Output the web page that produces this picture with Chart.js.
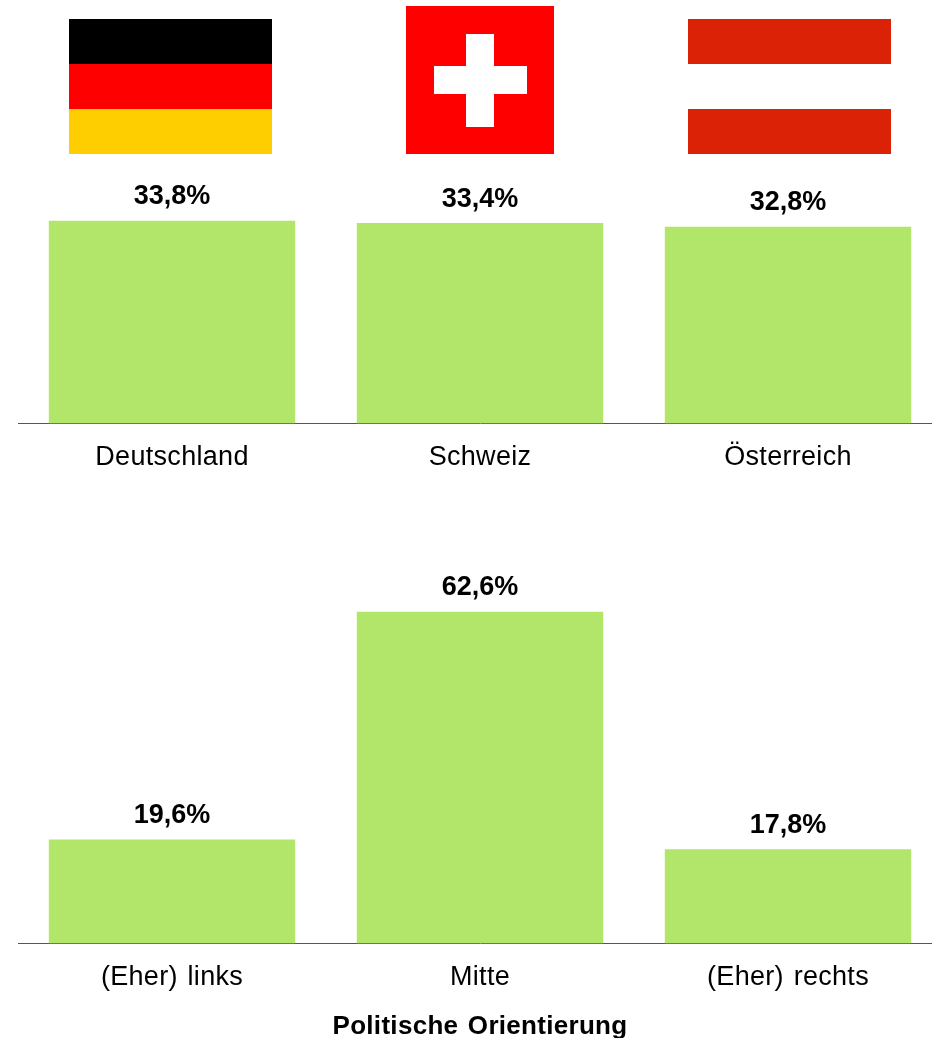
<!DOCTYPE html>
<html lang="de"><head><meta charset="utf-8">
<style>
html,body{margin:0;padding:0;width:932px;height:1038px;overflow:hidden;background:#fff}
.c{position:absolute;left:18px;width:924px}
.c canvas{display:block}
.f{position:absolute}
</style></head><body>
<div class="f" style="left:69px;top:19px;width:203px;height:45px;background:#000"></div>
<div class="f" style="left:69px;top:64px;width:203px;height:45px;background:#ff0000"></div>
<div class="f" style="left:69px;top:109px;width:203px;height:45px;background:#ffce00"></div>
<div class="f" style="left:406px;top:6px;width:148px;height:148px;background:#ff0000"></div>
<div class="f" style="left:466px;top:34px;width:28px;height:92.5px;background:#fff"></div>
<div class="f" style="left:433.5px;top:66px;width:93px;height:28px;background:#fff"></div>
<div class="f" style="left:688px;top:19px;width:203px;height:45px;background:#db2106"></div>
<div class="f" style="left:688px;top:109px;width:203px;height:45px;background:#db2106"></div>
<div class="c" style="top:0;height:480px"><canvas id="a"></canvas></div>
<div class="c" style="top:520px;height:520px"><canvas id="b"></canvas></div>
<script src="https://cdn.jsdelivr.net/npm/chart.js@4"></script>
<script>
const countries = ['Deutschland', 'Schweiz', 'Österreich'];
const countryValues = [33.8, 33.4, 32.8];
const orientations = ['(Eher) links', 'Mitte', '(Eher) rechts'];
const orientationValues = [19.6, 62.6, 17.8];
const axisTitle = 'Politische Orientierung';
const FF = '"Liberation Sans", Arial, sans-serif';
const barColor = '#b2e66a';

const valueLabels = {
  id: 'valueLabels',
  beforeDraw(c){ c.ctx.letterSpacing = '0.3px'; c.ctx.wordSpacing = '2px'; },
  afterDatasetsDraw(c){
    const x = c.ctx, m = c.getDatasetMeta(0);
    x.save();
    x.letterSpacing = '0px';
    x.wordSpacing = '0px';
    x.font = 'bold 27px ' + FF;
    x.fillStyle = '#000'; x.textAlign = 'center'; x.textBaseline = 'middle';
    m.data.forEach((el, i) => {
      const v = c.data.datasets[0].data[i];
      x.fillText(v.toFixed(1).replace('.', ',') + '%', el.x, el.y - 24);
    });
    x.restore();
  }
};

function make(id, labels, values, max, axisH, padTop, title){
  new Chart(document.getElementById(id), {
    type: 'bar',
    data: { labels, datasets: [{ data: values, backgroundColor: barColor, borderWidth: 0,
      categoryPercentage: 1, barPercentage: 0.8 }] },
    plugins: [valueLabels],
    options: {
      responsive: true, maintainAspectRatio: false, animation: false,
      layout: { padding: { top: padTop, left: 0, right: 0, bottom: 0 } },
      plugins: { legend: { display: false }, tooltip: { enabled: false } },
      scales: {
        y: { display: false, min: 0, max },
        x: {
          afterFit(s){ s.height = axisH; },
          grid: { display: false },
          border: { display: true, color: '#555', width: 1 },
          ticks: { color: '#000', padding: 10, maxRotation: 0, font: { family: FF, size: 27, lineHeight: 1.2 } },
          title: title ? { display: true, text: title, color: '#000', padding: 0,
            font: { family: FF, size: 26, weight: 'bold', lineHeight: 1 } } : { display: false }
        }
      }
    }
  });
}
make('a', countries, countryValues, 40, 56.5, 183.5, null);
make('b', orientations, orientationValues, 70, 96.5, 52.5, axisTitle);
</script>
</body></html>
